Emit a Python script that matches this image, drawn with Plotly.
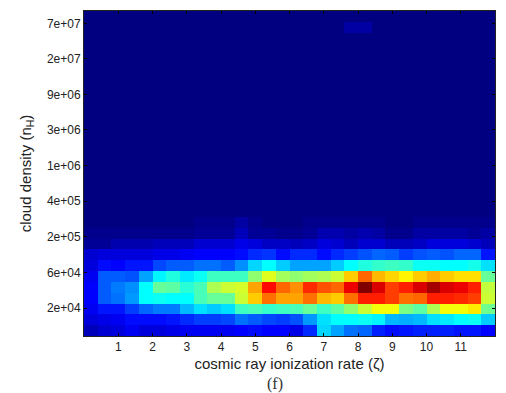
import plotly.graph_objects as go

x_tick_values = [1, 2, 3, 4, 5, 6, 7, 8, 9, 10, 11]
y_tick_labels = ["2e+04", "6e+04", "2e+05", "4e+05", "1e+06", "3e+06", "9e+06", "2e+07", "7e+07"]
y_tick_rows = [2.08, 5.37, 8.65, 11.95, 15.25, 18.55, 21.8, 25.1, 28.35]

# Rows of the map, bottom to top; values 0-1 on the jet scale.
row_00 = [.05,.07,.08,.10,.08,.08,.09,.10,.10,.10,.10,.11,.12,.11,.11,.09,.15,.32,.27,.22,.21,.14,.12,.13,.14,.14,.14,.13,.13,.11]
row_01 = [.08,.09,.10,.12,.12,.12,.13,.15,.17,.17,.18,.22,.20,.18,.17,.19,.26,.33,.36,.36,.37,.35,.29,.28,.29,.33,.34,.36,.37,.31]
row_02 = [.10,.13,.13,.17,.21,.23,.23,.29,.33,.31,.33,.42,.43,.41,.42,.43,.46,.42,.45,.50,.56,.60,.60,.48,.45,.53,.60,.60,.63,.47]
row_03 = [.11,.20,.22,.26,.36,.37,.36,.36,.43,.46,.46,.56,.66,.75,.70,.70,.75,.68,.66,.75,.83,.83,.80,.75,.76,.83,.83,.82,.80,.56]
row_04 = [.11,.20,.23,.25,.36,.46,.45,.40,.43,.53,.56,.57,.70,.85,.76,.72,.82,.78,.76,.88,1.0,.90,.80,.83,.90,.96,.90,.88,.83,.55]
row_05 = [.10,.20,.20,.19,.27,.35,.39,.34,.37,.42,.42,.42,.50,.58,.52,.50,.52,.53,.56,.66,.76,.68,.65,.62,.66,.69,.66,.64,.64,.46]
row_06 = [.08,.12,.11,.13,.13,.18,.20,.20,.22,.22,.20,.25,.32,.36,.31,.27,.27,.27,.31,.36,.39,.41,.42,.41,.37,.37,.36,.36,.38,.33]
row_07 = [.07,.08,.08,.08,.08,.09,.09,.10,.11,.11,.11,.12,.15,.16,.12,.15,.15,.12,.15,.17,.19,.21,.20,.17,.19,.20,.19,.21,.21,.13]
row_08 = [.02,.02,.04,.04,.04,.05,.05,.05,.07,.07,.07,.09,.08,.06,.06,.05,.06,.08,.07,.05,.07,.07,.05,.05,.06,.08,.08,.08,.07,.05]
row_09 = [.01,.01,.01,.01,.01,.01,.01,.01,.02,.02,.02,.05,.02,.02,.01,.01,.02,.04,.04,.03,.04,.03,.01,.01,.03,.03,.03,.03,.02,.03]
row_10 = [.00,.00,.00,.00,.00,.00,.00,.00,.01,.01,.01,.03,.01,.00,.00,.00,.01,.01,.01,.01,.01,.01,.00,.00,.01,.01,.01,.01,.01,.01]
row_11 = [.00,.00,.00,.00,.00,.00,.00,.00,.00,.00,.00,.00,.00,.00,.00,.00,.00,.00,.00,.00,.00,.00,.00,.00,.00,.00,.00,.00,.00,.00]
row_12 = [.00,.00,.00,.00,.00,.00,.00,.00,.00,.00,.00,.00,.00,.00,.00,.00,.00,.00,.00,.00,.00,.00,.00,.00,.00,.00,.00,.00,.00,.00]
row_13 = row_12
row_14 = row_12
row_15 = row_12
row_16 = row_12
row_17 = row_12
row_18 = row_12
row_19 = row_12
row_20 = row_12
row_21 = row_12
row_22 = row_12
row_23 = row_12
row_24 = row_12
row_25 = row_12
row_26 = row_12
row_27 = row_12
row_28 = [.00,.00,.00,.00,.00,.00,.00,.00,.00,.00,.00,.00,.00,.00,.00,.00,.00,.00,.00,.03,.03,.00,.00,.00,.00,.00,.00,.00,.00,.00]
row_29 = row_12

z = [row_00, row_01, row_02, row_03, row_04, row_05, row_06, row_07, row_08, row_09,
     row_10, row_11, row_12, row_13, row_14, row_15, row_16, row_17, row_18, row_19,
     row_20, row_21, row_22, row_23, row_24, row_25, row_26, row_27, row_28, row_29]

jet = [[0, "#000080"], [0.11, "#0000ff"], [0.36, "#00ffff"], [0.61, "#ffff00"],
       [0.86, "#ff0000"], [1, "#800000"]]

fig = go.Figure(go.Heatmap(z=z, x0=0.2, dx=0.4, y0=0, dy=1, colorscale=jet,
                           zmin=0, zmax=1, showscale=False))

axis_font = dict(family="Liberation Sans", size=12, color="#222")
fig.update_layout(
    width=498, height=385,
    margin=dict(l=76, r=11, t=3, b=57),
    paper_bgcolor="white", plot_bgcolor="white",
    font=axis_font,
    xaxis=dict(range=[0, 12], tickvals=x_tick_values, ticks="inside", ticklen=3, tickwidth=1,
               tickcolor="black", mirror="allticks", showline=True, linecolor="#222", linewidth=1,
               showgrid=False, zeroline=False, tickfont=axis_font,
               title=dict(text="cosmic ray ionization rate (ζ)", standoff=5,
                          font=dict(family="Liberation Sans", size=15, color="#222"))),
    yaxis=dict(range=[-0.5, 29.5], tickvals=y_tick_rows, ticktext=y_tick_labels, ticks="inside",
               ticklen=3, tickwidth=1, tickcolor="black", mirror="allticks", showline=True,
               linecolor="#222", linewidth=1, showgrid=False, zeroline=False, tickfont=axis_font,
               title=dict(text="cloud density (n<sub>H</sub>)", standoff=11,
                          font=dict(family="Liberation Sans", size=15, color="#222"))),
    annotations=[dict(text="(f)", xref="paper", yref="paper", x=0.465, y=-0.148,
                      xanchor="center", yanchor="middle", showarrow=False,
                      font=dict(family="Liberation Serif", size=16, color="#333"))],
)
fig.write_html("out.html")
